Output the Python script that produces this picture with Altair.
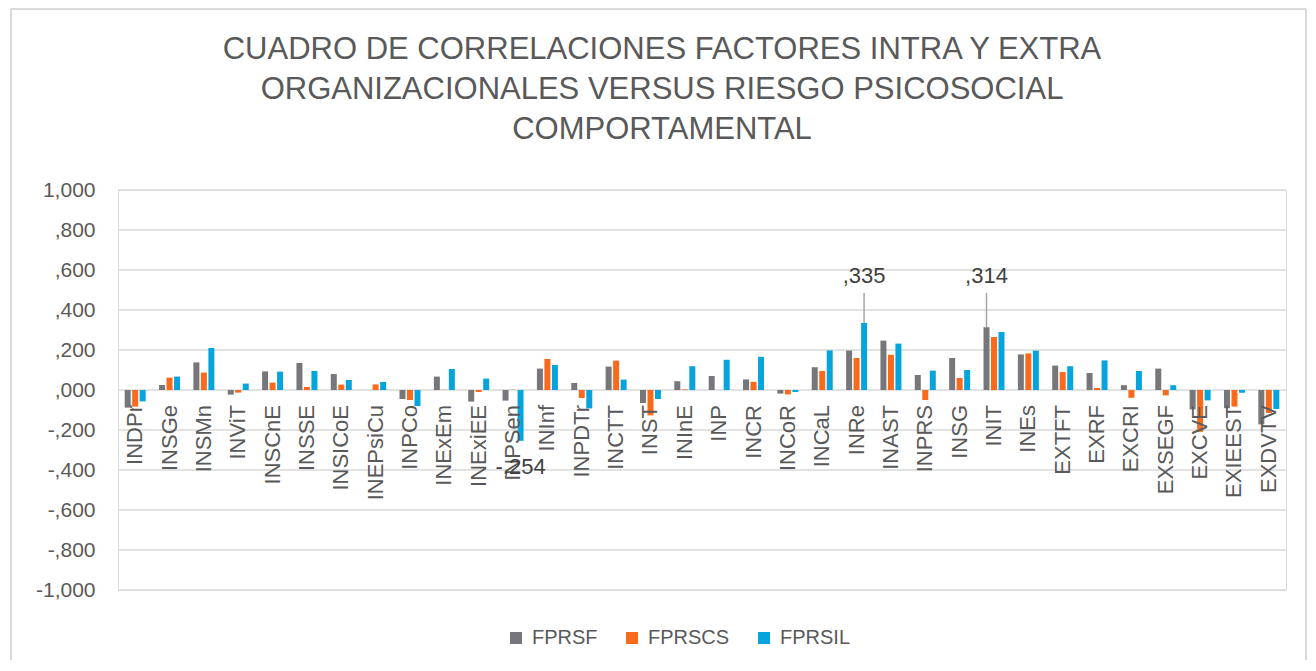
import altair as alt
import pandas as pd

categories = ["INDPr", "INSGe", "INSMn", "INViT", "INSCnE", "INSSE", "INSICoE", "INEPsiCu",
              "INPCo", "INExEm", "INExiEE", "INPSen", "INInf", "INPDTr", "INCTT", "INST",
              "INInE", "INP", "INCR", "INCoR", "INCaL", "INRe", "INAST", "INPRS", "INSG",
              "INIT", "INEs", "EXTFT", "EXRF", "EXCRI", "EXSEGF", "EXCVE", "EXIEEST", "EXDVTV"]

series = ["FPRSF", "FPRSCS", "FPRSIL"]

fprsf = [-0.088, 0.025, 0.138, -0.023, 0.093, 0.135, 0.080, 0.000,
         -0.045, 0.067, -0.058, -0.053, 0.107, 0.035, 0.117, -0.065,
         0.044, 0.070, 0.053, -0.018, 0.114, 0.197, 0.247, 0.075, 0.160,
         0.314, 0.178, 0.122, 0.085, 0.024, 0.107, -0.097, -0.091, -0.172]

fprscs = [-0.083, 0.062, 0.087, -0.013, 0.037, 0.015, 0.027, 0.028,
          -0.050, 0.001, -0.010, 0.001, 0.155, -0.040, 0.147, -0.127,
          0.003, 0.000, 0.041, -0.022, 0.095, 0.160, 0.176, -0.050, 0.060,
          0.265, 0.183, 0.090, 0.010, -0.039, -0.027, -0.209, -0.083, -0.115]

fprsil = [-0.057, 0.067, 0.210, 0.032, 0.092, 0.095, 0.050, 0.040,
          -0.080, 0.105, 0.057, -0.254, 0.125, -0.092, 0.052, -0.045,
          0.119, 0.151, 0.166, -0.010, 0.198, 0.335, 0.232, 0.097, 0.100,
          0.290, 0.197, 0.119, 0.148, 0.095, 0.024, -0.052, -0.014, -0.095]

y_ticks = [-1.0, -0.8, -0.6, -0.4, -0.2, 0.0, 0.2, 0.4, 0.6, 0.8, 1.0]

# data labels shown in the original (category, series)
label_cats_pos = ["INRe", "INIT"]
label_series_pos = ["FPRSIL", "FPRSF"]
label_cats_neg = ["INPSen"]
label_series_neg = ["FPRSIL"]

title_lines = ["CUADRO DE CORRELACIONES FACTORES INTRA Y EXTRA",
               "ORGANIZACIONALES VERSUS RIESGO PSICOSOCIAL",
               "COMPORTAMENTAL"]

colors = ["#77777b", "#fa6a1c", "#06a4dc"]

FONT = "Liberation Sans"
TXT = "#595959"
PLOT_W = 1168
PLOT_H = 400

rows = []
for s, vals in zip(series, [fprsf, fprscs, fprsil]):
    for c, v in zip(categories, vals):
        rows.append({"cat": c, "series": s, "value": v})
df = pd.DataFrame(rows)

pos_df = pd.concat([df[(df.cat == c) & (df.series == s)] for c, s in zip(label_cats_pos, label_series_pos)])
neg_df = pd.concat([df[(df.cat == c) & (df.series == s)] for c, s in zip(label_cats_neg, label_series_neg)])
cat_df = pd.DataFrame({"cat": categories})
tick_df = pd.DataFrame({"tick": y_ticks})

fmt = ("(datum.value < 0 ? '-' : '') + (abs(datum.value) >= 1 ? '1' : '') + ',' + "
       "substring(format(abs(datum.value), '.3f'), 2)")

x_scale = alt.Scale(paddingInner=0.345, paddingOuter=0.1725)
xoff_enc = alt.XOffset("series:N", sort=series,
                       scale=alt.Scale(paddingInner=0.2, paddingOuter=0.1))
y_scale = alt.Scale(domain=[-1, 1], nice=False, zero=False)
y_axis = alt.Axis(values=y_ticks, labelExpr=fmt, ticks=False, tickSize=0,
                  domain=False, domainOpacity=0, title=None, labelFontSize=21, labelFont=FONT,
                  labelColor=TXT, labelPadding=23, grid=False, labelOverlap=False)


def xe():
    return alt.X("cat:N", sort=categories, axis=None, scale=x_scale)


def ye(field):
    return alt.Y(field, scale=y_scale, axis=y_axis)


# gridlines drawn as thin bars (1.5 px high) at each tick value
grid = alt.Chart(tick_df).transform_calculate(
    lo="datum.tick - 0.00375", hi="datum.tick + 0.00375"
).mark_bar(color="#d9d9d9").encode(
    x=alt.value(0), x2=alt.value(PLOT_W), y=ye("lo:Q"), y2="hi:Q")

bars = alt.Chart(df).mark_bar().encode(
    x=xe(),
    xOffset=xoff_enc,
    y=ye("value:Q"),
    color=alt.Color("series:N", sort=series,
                    scale=alt.Scale(domain=series, range=colors),
                    legend=alt.Legend(title=None, orient="none", direction="horizontal",
                                      legendX=388, legendY=438, symbolType="square",
                                      symbolSize=144, symbolStrokeWidth=0,
                                      labelFontSize=20, labelFont=FONT, labelColor=TXT,
                                      labelOffset=6, columnPadding=24, padding=0)),
)

cat_labels = alt.Chart(cat_df).transform_calculate(zero="0").mark_text(
    angle=270, align="right", baseline="middle", dx=-15, fontSize=22, font=FONT, color=TXT
).encode(x=xe(), y=ye("zero:Q"), text="cat:N")

leaders = alt.Chart(pos_df).transform_calculate(top="0.485").mark_rule(
    color="#a6a6a6", strokeWidth=1.5
).encode(x=xe(), xOffset=xoff_enc, y=ye("value:Q"), y2="top:Q")

pos_text = alt.Chart(pos_df).transform_calculate(lab=fmt, ly="0.57").mark_text(
    fontSize=22, font=FONT, color="#404040", baseline="middle"
).encode(x=xe(), xOffset=xoff_enc, y=ye("ly:Q"), text="lab:N")

neg_text = alt.Chart(neg_df).transform_calculate(lab=fmt).mark_text(
    fontSize=22, font=FONT, color="#404040", baseline="middle", dy=26
).encode(x=xe(), xOffset=xoff_enc, y=ye("value:Q"), text="lab:N")

frame_df = pd.DataFrame({"a": [0]})
frame_left = alt.Chart(frame_df).mark_rule(color="#d9d9d9", strokeWidth=2).encode(
    x=alt.value(-107), y=alt.value(-181), y2=alt.value(490))
frame_top = alt.Chart(frame_df).mark_rule(color="#d9d9d9", strokeWidth=2).encode(
    x=alt.value(-107), x2=alt.value(1188), y=alt.value(-181))
frame_right = alt.Chart(frame_df).mark_rule(color="#d9d9d9", strokeWidth=2).encode(
    x=alt.value(1188), y=alt.value(-181), y2=alt.value(490))

chart = alt.layer(grid, bars, frame_left, frame_top, frame_right, cat_labels, leaders, pos_text, neg_text).properties(
    width=PLOT_W,
    height=PLOT_H,
    title=alt.TitleParams(text=title_lines, anchor="middle", dx=-40, offset=-169,
                          baseline="bottom", lineHeight=40, fontSize=31,
                          font=FONT, fontWeight="normal", color=TXT),
    autosize=alt.AutoSizeParams(type="none"),
    padding={"left": 110, "top": 182, "right": 22, "bottom": 70},
).configure_view(strokeWidth=0, stroke="transparent").configure_axis(
    domain=False
).configure(background="white")

chart.save("out.html", embed_options={"renderer": "svg", "actions": False})
